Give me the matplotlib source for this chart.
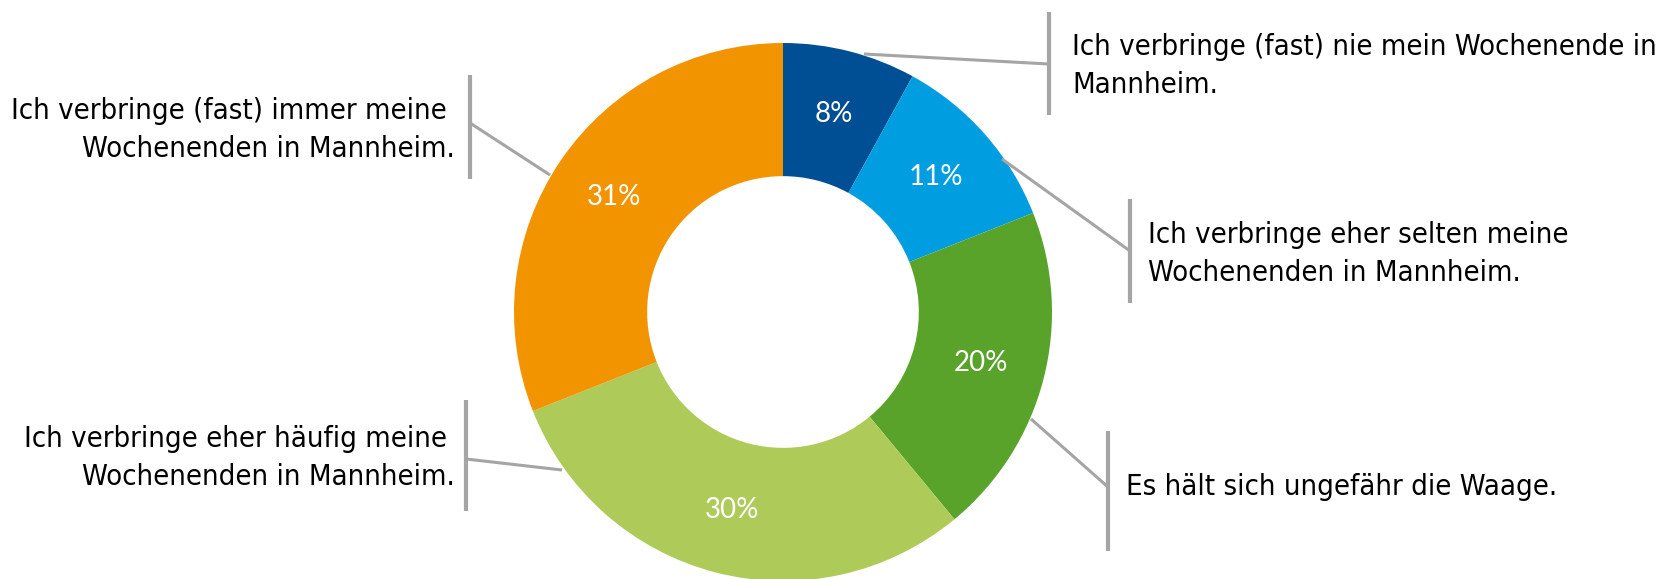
import matplotlib
matplotlib.use("Agg")
import matplotlib.pyplot as plt

# data
categories = [
    "Ich verbringe (fast) nie mein Wochenende in\nMannheim.",
    "Ich verbringe eher selten meine\nWochenenden in Mannheim.",
    "Es hält sich ungefähr die Waage.",
    "Ich verbringe eher häufig meine \nWochenenden in Mannheim.",
    "Ich verbringe (fast) immer meine \nWochenenden in Mannheim.",
]
shares = [8, 11, 20, 30, 31]
colors = ["#004f94", "#009ee0", "#5aa32a", "#aecb5a", "#f29400"]

W, H = 1662, 579
fig = plt.figure(figsize=(W / 100, H / 100), dpi=100)
ax = fig.add_axes([0, 0, 1, 1])

cx, cy, R = 783, H - 312, 269

ax.pie(shares, colors=colors, startangle=90, counterclock=False,
       radius=R, center=(cx, cy),
       wedgeprops=dict(width=R * 0.495, linewidth=0),
       autopct=lambda p: f"{p:.0f}%", pctdistance=0.76,
       textprops=dict(color="white", fontsize=20, family="Lato"))

ax.set_xlim(0, W)
ax.set_ylim(0, H)
ax.set_aspect("auto")
ax.axis("off")

grey = "#a5a5a5"
# pixel layout (from top): leader start, leader end on bar, bar span, text pos, align
callouts = [
    ((864, 54), (1049, 64), (12, 115), (1072, 66), "left"),
    ((1002, 159), (1130, 251), (199, 303), (1148, 254), "left"),
    ((1031, 419), (1108, 487), (431, 551), (1126, 487), "left"),
    ((562, 470), (466, 459), (400, 511), (455, 458), "right"),
    ((550, 175), (470, 123), (75, 179), (455, 130), "right"),
]

for label, (p0, p1, (yb0, yb1), (tx, ty), ha) in zip(categories, callouts):
    ax.plot([p0[0], p1[0]], [H - p0[1], H - p1[1]], color=grey, lw=2.2,
            solid_capstyle="butt")
    ax.plot([p1[0], p1[0]], [H - yb0, H - yb1], color=grey, lw=3,
            solid_capstyle="butt")
    ax.text(tx, H - ty, label, ha=ha, va="center",
            multialignment=ha, fontsize=21, family="DejaVu Sans",
            fontstretch="condensed", color="black", linespacing=1.45)

fig.savefig("out.png", dpi=100)
